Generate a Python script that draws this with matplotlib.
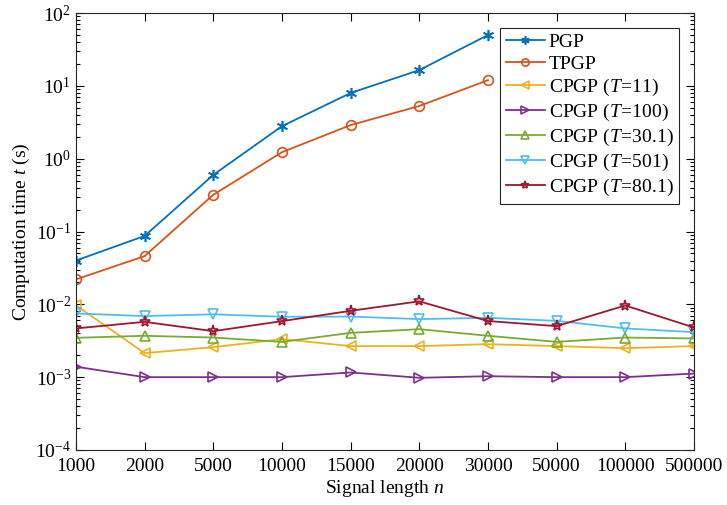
import matplotlib.pyplot as plt
import numpy as np

plt.rcParams['font.family'] = 'Liberation Serif'
plt.rcParams['mathtext.fontset'] = 'custom'
plt.rcParams['mathtext.rm'] = 'Liberation Serif'
plt.rcParams['mathtext.it'] = 'Liberation Serif:italic'

# signal lengths (categorical x positions)
lengths = ['1000', '2000', '5000', '10000', '15000', '20000', '30000',
           '50000', '100000', '500000']

pgp = [0.040, 0.087, 0.60, 2.8, 8.0, 16.5, 50]
tpgp = [0.022, 0.046, 0.32, 1.23, 2.9, 5.3, 12]
cpgp_11 = [0.0097, 0.00214, 0.00258, 0.00333, 0.00267, 0.00267, 0.00284,
           0.00267, 0.0025, 0.00267]
cpgp_100 = [0.00139, 0.001, 0.001, 0.001, 0.00116, 0.00098, 0.00103,
            0.001, 0.001, 0.00112]
cpgp_301 = [0.00347, 0.0037, 0.0035, 0.00305, 0.00406, 0.00456, 0.0037,
            0.00305, 0.0035, 0.0034]
cpgp_501 = [0.0075, 0.0069, 0.0073, 0.00675, 0.0068, 0.00627, 0.00653,
            0.00594, 0.00467, 0.00415]
cpgp_801 = [0.00467, 0.00575, 0.00428, 0.00588, 0.00815, 0.011, 0.0059,
            0.00502, 0.00964, 0.00481]

# (values, colour, marker, marker size, label)
series = [
    (pgp, '#0072BD', (6, 2, 0), 8, 'PGP'),
    (tpgp, '#D95319', 'o', 7, 'TPGP'),
    (cpgp_11, '#EDB120', '<', 7.5, r'CPGP $\mathit{(T\!=\!11)}$'),
    (cpgp_100, '#7E2F8E', '>', 7.5, r'CPGP $\mathit{(T\!=\!100)}$'),
    (cpgp_301, '#77AC30', '^', 7.5, r'CPGP $\mathit{(T\!=\!30.1)}$'),
    (cpgp_501, '#4DBEEE', 'v', 7.5, r'CPGP $\mathit{(T\!=\!501)}$'),
    (cpgp_801, '#A2142F', '*', 8, r'CPGP $\mathit{(T\!=\!80.1)}$'),
]

fig = plt.figure(figsize=(7.27, 5.05), dpi=100)
ax = fig.add_axes([0.1045, 0.109, 0.85, 0.865])

for vals, col, mk, ms, lab in series:
    x = np.arange(1, len(vals) + 1)
    ax.plot(x, vals, color=col, marker=mk, markersize=ms, markerfacecolor='none',
            markeredgewidth=1.2, linewidth=1.3, label=lab)

ax.set_yscale('log')
ax.set_ylim(1e-4, 1e2)
ax.set_xlim(1, 10)
ax.set_xticks(np.arange(1, 11))
ax.set_xticklabels(lengths)
ax.tick_params(which='both', direction='in', top=True, right=True,
               labelsize=14, width=0.8)
ax.tick_params(which='major', length=6)
ax.tick_params(which='minor', length=3)
ax.tick_params(axis='x', pad=6)
for s in ax.spines.values():
    s.set_linewidth(0.8)
    s.set_color('#262626')

ax.set_xlabel(r'Signal length $n$', fontsize=14, labelpad=2)
ax.set_ylabel(r'Computation time $t$ (s)', fontsize=14, labelpad=2)

leg = ax.legend(loc='upper right', fontsize=14, fancybox=False,
                edgecolor='#262626', framealpha=1, borderaxespad=0.75,
                handlelength=2.0, labelspacing=0.2, borderpad=0.3,
                handletextpad=0.2, markerscale=0.75)
leg.get_frame().set_linewidth(0.8)

plt.savefig('out.png', dpi=100)
